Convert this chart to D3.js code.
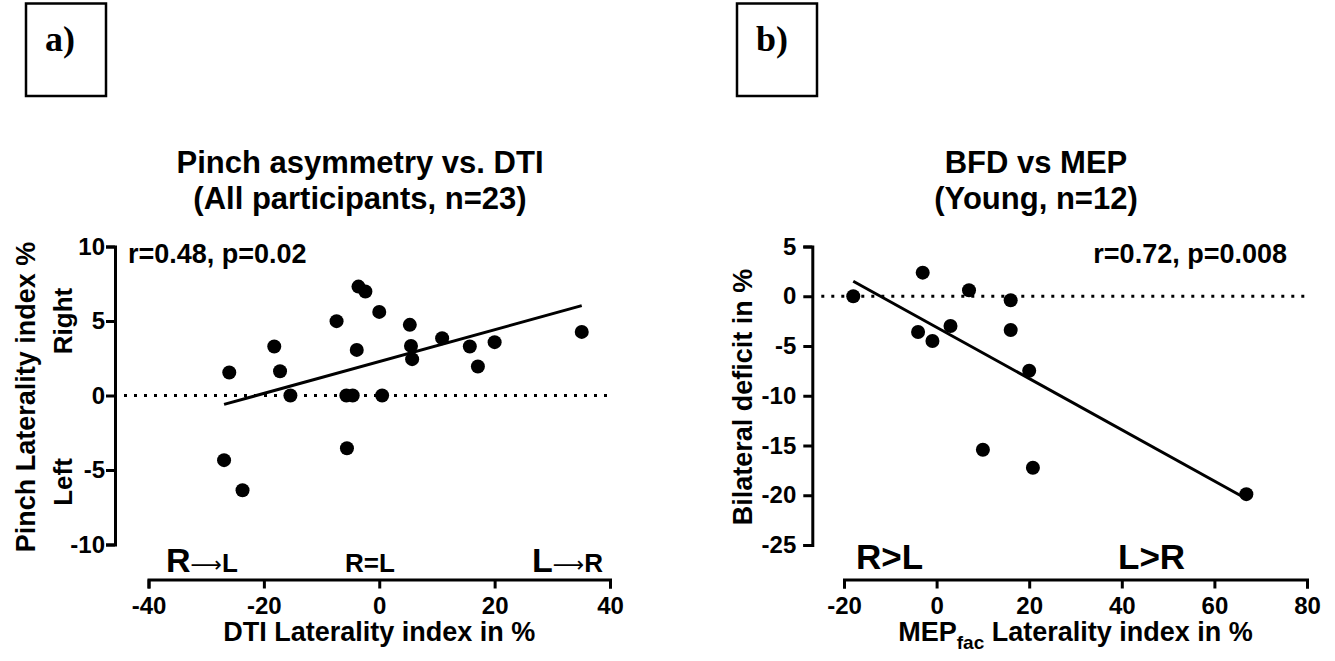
<!DOCTYPE html>
<html><head><meta charset="utf-8">
<script src="https://cdn.jsdelivr.net/npm/d3@7"></script>
<style>
body{margin:0;background:#fff}
svg{display:block}
text{font-family:"Liberation Sans",Arial,Helvetica,sans-serif;font-weight:bold;fill:#000}
</style>
</head><body>
<svg id="c" width="1335" height="661"></svg>
<script>
// ---------- data ----------
// Panel a: Pinch asymmetry vs. DTI (All participants, n=23)
const dtiLI   = [-26.0,-26.9,-23.7,-18.2,-17.2,-15.4,-7.4,-5.7,-4.6,-5.6,-3.9,-3.6,-2.4,0.0,0.5,5.3,5.5,5.7,10.9,15.7,17.1,20.0,35.1];
const pinchLI = [1.54,-4.34,-6.36,3.29,1.63,0.0,4.99,0.0,0.0,-3.54,3.06,7.31,6.98,5.61,0.0,4.74,3.33,2.44,3.85,3.29,1.95,3.58,4.27];
// Panel b: BFD vs MEP (Young, n=12)
const mepLI   = [-18.0,-3.0,-4.0,-0.9,3.0,7.0,16.0,16.0,20.0,10.0,20.8,66.9];
const bfdDef  = [0.0,2.37,-3.59,-4.5,-2.99,0.6,-0.4,-3.39,-7.48,-15.43,-17.24,-19.89];

const xTicksA = [-40,-20,0,20,40];
const yTicksA = [-10,-5,0,5,10];
const xTicksB = [-20,0,20,40,60,80];
const yTicksB = [-25,-20,-15,-10,-5,0,5];

const svg = d3.select('#c');

function fit(xs, ys){
  const mx = d3.mean(xs), my = d3.mean(ys);
  let sxy = 0, sxx = 0;
  xs.forEach((v,i)=>{ sxy += (v-mx)*(ys[i]-my); sxx += (v-mx)*(v-mx); });
  const b = sxy/sxx;
  return {b, a: my - b*mx};
}

function panel(o){
  const g = svg.append('g');
  const x = d3.scaleLinear().domain(o.xDomain).range(o.xRange);
  const y = d3.scaleLinear().domain(o.yDomain).range(o.yRange);

  const gy = g.append('g').attr('transform',`translate(${o.yAxisX},0)`)
    .call(d3.axisLeft(y).tickValues(o.yTicks).tickSize(9).tickPadding(o.yPad).tickFormat(d=>String(d)));
  const gx = g.append('g').attr('transform',`translate(0,${o.xAxisY})`)
    .call(d3.axisBottom(x).tickValues(o.xTicks).tickSize(9).tickPadding(8).tickFormat(d=>String(d)));
  [gx,gy].forEach(a=>{
    a.attr('font-family',null).attr('font-size',null);
    a.select('.domain').attr('stroke','#000').attr('stroke-width',3);
    a.selectAll('.tick line').attr('stroke','#000').attr('stroke-width',3);
    a.selectAll('.tick text').attr('fill','#000').style('font-size','24px');
  });

  // dotted zero line
  g.append('line')
    .attr('x1', o.yAxisX + 9).attr('x2', x(o.xDomain[1]))
    .attr('y1', y(0)).attr('y2', y(0))
    .attr('stroke','#000').attr('stroke-width',3).attr('stroke-dasharray','3,7');

  // regression line (least squares over the data range)
  const f = fit(o.xs, o.ys);
  const ext = d3.extent(o.xs);
  g.append('line')
    .attr('x1', x(ext[0])).attr('y1', y(f.a + f.b*ext[0]))
    .attr('x2', x(ext[1])).attr('y2', y(f.a + f.b*ext[1]))
    .attr('stroke','#000').attr('stroke-width',3);

  // points
  g.selectAll('circle.pt').data(o.xs.map((v,i)=>[v,o.ys[i]])).join('circle')
    .attr('class','pt').attr('cx',d=>x(d[0])).attr('cy',d=>y(d[1])).attr('r',7).attr('fill','#000');

  // titles
  o.title.forEach((t,i)=>{
    g.append('text').attr('x',o.titleX).attr('y',173 + i*36).attr('text-anchor','middle')
      .style('font-size','31px').text(t);
  });
  return {x,y,g};
}

// ---------- Panel a ----------
const A = panel({
  xs: dtiLI, ys: pinchLI,
  xDomain:[-40,40], xRange:[148.5,610],
  yDomain:[-10,10], yRange:[544.5,246.5],
  yAxisX:115, xAxisY:579.5, yPad:1,
  xTicks:xTicksA, yTicks:yTicksA,
  title:['Pinch asymmetry vs. DTI','(All participants, n=23)'], titleX:360
});
A.g.append('text').attr('x',128).attr('y',263).style('font-size','27px').text('r=0.48, p=0.02');
A.g.append('text').attr('transform','translate(35,397) rotate(-90)').attr('text-anchor','middle')
  .style('font-size','27px').text('Pinch Laterality index %');
A.g.append('text').attr('transform','translate(72,321) rotate(-90)').attr('text-anchor','middle')
  .style('font-size','26px').text('Right');
A.g.append('text').attr('transform','translate(72,482) rotate(-90)').attr('text-anchor','middle')
  .style('font-size','26px').text('Left');
A.g.append('text').attr('x',379.3).attr('y',641).attr('text-anchor','middle')
  .style('font-size','27px').text('DTI Laterality index in %');
// direction labels
const arrowFont = '"DejaVu Sans",sans-serif';
const rl = A.g.append('text').attr('x',166).attr('y',572);
rl.append('tspan').style('font-size','34px').text('R');
rl.append('tspan').style('font-size','22px').style('font-family',arrowFont).style('font-weight','normal').text('⟶');
rl.append('tspan').style('font-size','26px').text('L');
A.g.append('text').attr('x',370).attr('y',572).attr('text-anchor','middle')
  .style('font-size','26px').text('R=L');
const lr = A.g.append('text').attr('x',603).attr('y',572).attr('text-anchor','end');
lr.append('tspan').style('font-size','34px').text('L');
lr.append('tspan').style('font-size','22px').style('font-family',arrowFont).style('font-weight','normal').text('⟶');
lr.append('tspan').style('font-size','26px').text('R');

// ---------- Panel b ----------
const B = panel({
  xs: mepLI, ys: bfdDef,
  xDomain:[-20,80], xRange:[844,1307],
  yDomain:[-25,5], yRange:[545,246.5],
  yAxisX:812.3, xAxisY:579.5, yPad:7,
  xTicks:xTicksB, yTicks:yTicksB,
  title:['BFD vs MEP','(Young, n=12)'], titleX:1036
});
B.g.append('text').attr('x',1287).attr('y',263).attr('text-anchor','end').style('font-size','27px').text('r=0.72, p=0.008');
B.g.append('text').attr('transform','translate(752,397) rotate(-90)').attr('text-anchor','middle')
  .style('font-size','27px').text('Bilateral  deficit in %');
B.g.append('text').attr('x',856).attr('y',569).style('font-size','35px').text('R>L');
B.g.append('text').attr('x',1118).attr('y',569).style('font-size','35px').text('L>R');
const xt = B.g.append('text').attr('x',1075.5).attr('y',641).attr('text-anchor','middle').style('font-size','27px');
xt.append('tspan').text('MEP');
xt.append('tspan').attr('dy',8).style('font-size','19px').text('fac');
xt.append('tspan').attr('dy',-8).text(' Laterality index in %');

// ---------- panel letters ----------
[['a)',26],['b)',737]].forEach(([t,x0])=>{
  svg.append('rect').attr('x',x0).attr('y',3.5).attr('width',80).attr('height',92.5)
    .attr('fill','none').attr('stroke','#000').attr('stroke-width',2.5);
  svg.append('text').attr('x',x0+19).attr('y',51)
    .style('font-family','"Liberation Serif","Times New Roman",serif').style('font-size','36px').text(t);
});
</script>
</body></html>
